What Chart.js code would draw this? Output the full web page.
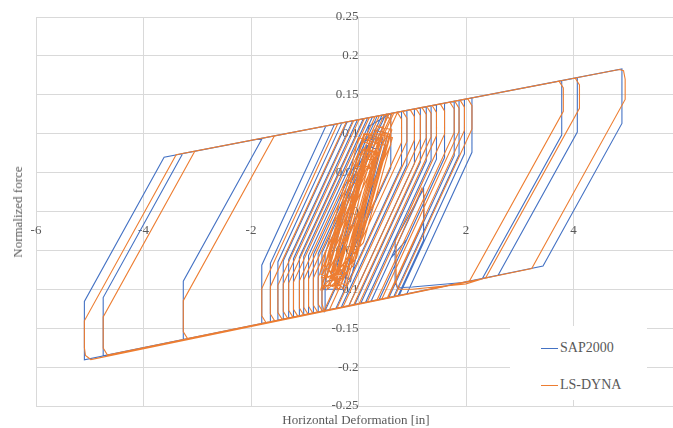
<!DOCTYPE html>
<html>
<head>
<meta charset="utf-8">
<script src="https://cdn.jsdelivr.net/npm/chart.js@4.4.0/dist/chart.umd.min.js"></script>
<style>
  body { margin: 0; background: #fff; }
  #wrap { position: relative; width: 673px; height: 428px; font-family: 'Liberation Serif', 'Times New Roman', 'DejaVu Serif', serif; color: #595959; }
  #chart { position: absolute; left: 0; top: 0; }
  .ytitle { position: absolute; left: 18px; top: 212px; transform: translate(-50%, -50%) rotate(-90deg); font-size: 13px; white-space: nowrap; }
  .xtitle { position: absolute; left: 356px; top: 420px; transform: translate(-50%, -50%); font-size: 13px; white-space: nowrap; }
  .legend { position: absolute; left: 510px; top: 326px; width: 137px; height: 74px; background: #fff; }
  .item { position: absolute; left: 31px; font-size: 14px; line-height: 16px; white-space: nowrap; }
  .swatch { display: inline-block; width: 17px; height: 0; border-top: 1.5px solid; vertical-align: middle; margin-right: 2px; }
</style>
</head>
<body>
<div id="wrap">
  <canvas id="chart" width="673" height="428"></canvas>
  <div class="ytitle">Normalized force</div>
  <div class="xtitle">Horizontal Deformation [in]</div>
  <div class="legend">
    <div class="item" style="top:14px"><span class="swatch" style="border-color:#4472C4"></span>SAP2000</div>
    <div class="item" style="top:51px"><span class="swatch" style="border-color:#ED7D31"></span>LS-DYNA</div>
  </div>
</div>
<script>
// SAP2000 path, one line per cycle (displacement in / normalized force)
const sapX = [
  0, -0.5, 0.15, 0.4, -0.25, -0.62, 0.05, 0.45, -0.15, -0.4, 0.3, 0.55, -0.3, -0.66, 0.2,
  0.6, 0.6, -0.622, -0.622, 0.564,
  0.8, 0.8, -0.421, -0.68, -0.68, 0.506,
  0.9, 0.9, -0.321, -0.75, -0.75, 0.437,
  1.04, 1.04, -0.18, -0.84, -0.84, 0.347,
  1.15, 1.15, -0.069, -0.93, -0.93, 0.258,
  1.26, 1.26, 0.042, -1.02, -1.02, 0.168,
  1.35, 1.35, 0.132, -1.1, -1.1, 0.089,
  1.45, 1.45, 0.233, -1.21, -1.21, -0.021,
  1.6, 1.6, 0.384, -1.3, -1.3, -0.11,
  1.78, 1.78, 0.565, -1.4, -1.4, -0.21,
  1.87, 1.87, 0.655, -1.5, -1.5, -0.309,
  1.97, 1.97, 0.756, -1.64, -1.64, -0.448,
  2.11, 2.11, 0.897, -1.8, -1.8, -0.607,
  3.78, 3.78, 2.304, -3.26, -3.26, -1.79,
  4.07, 4.07, 2.596, 2.0, 1.0, 0.72, 0.68, 0.68, 1.21, 1.21, 0.735, -4.75, -4.75, -3.27,
  4.9, 4.9, 3.432, -5.1, -5.1, -3.617,
  1.6, 1.6, 0.9, 0.6
];
const sapY = [
  0, -0.08, 0.085, 0.08, -0.085, -0.09, 0.09, 0.095, -0.09, -0.07, 0.105, 0.1, -0.1, -0.1, 0.11,
  0.126, 0.056, -0.1274, -0.0524, 0.1255,
  0.1286, 0.0586, -0.1245, -0.1282, -0.0532, 0.1247,
  0.13, 0.06, -0.1231, -0.1292, -0.0542, 0.1238,
  0.1318, 0.0618, -0.1211, -0.1304, -0.0554, 0.1226,
  0.1333, 0.0633, -0.1196, -0.1317, -0.0567, 0.1214,
  0.1348, 0.0648, -0.118, -0.133, -0.058, 0.1202,
  0.136, 0.066, -0.1167, -0.1341, -0.0591, 0.1192,
  0.1373, 0.0673, -0.1153, -0.1357, -0.0607, 0.1177,
  0.1393, 0.0693, -0.1132, -0.1369, -0.0619, 0.1165,
  0.1417, 0.0717, -0.1106, -0.1383, -0.0633, 0.1152,
  0.1429, 0.0729, -0.1094, -0.1398, -0.0648, 0.1139,
  0.1442, 0.0742, -0.1079, -0.1417, -0.0667, 0.112,
  0.1461, 0.0761, -0.106, -0.144, -0.069, 0.1099,
  0.1683, 0.0983, -0.0861, -0.1646, -0.0896, 0.0942,
  0.1721, 0.1021, -0.082, -0.091, -0.097, -0.098, -0.09, -0.037, 0.029, -0.037, -0.1082, -0.1856, -0.1106, 0.0745,
  0.1832, 0.1132, -0.0702, -0.1905, -0.1155, 0.0699,
  0.1393, 0.0693, -0.0357, -0.06
];

// LS-DYNA path
const dynaX = [
  0,
  -0.66, 0.06, 0.29, -0.41,
  -0.52, 0.2, 0.5, -0.22,
  -0.69, -0.11, 0.22, -0.34,
  -0.34, 0.34, 0.62, -0.04,
  -0.65, 0.07, 0.35, -0.35,
  -0.53, 0.27, 0.55, -0.23,
  -0.72, -0.24, 0.04, -0.42,
  -0.21, 0.35, 0.63, 0.09,
  -0.7, 0.1, 0.38, -0.4,
  -0.48, 0.08, 0.36, -0.18,
  -0.6, 0.0, 0.3, -0.3,
  -0.45, 0.22, 0.45, -0.28,
  -0.62, 0.12, 0.42, -0.12,
  -0.5, 0.15, 0.4, -0.33,
  -0.67, 0.0, 0.25, -0.45,
  -0.4, 0.3, 0.58, -0.1,
  -0.58, 0.05, 0.3, -0.2,
  -0.3, 0.25, 0.5, -0.05,
  0.52, 0.6, 0.6, -0.5, -0.55, -0.55, 0.625,
  0.72, 0.8, 0.8, -0.642, -0.68, -0.68, 0.726,
  0.82, 0.9, 0.9, -0.542, -0.67, -0.75, -0.75, 0.657,
  0.96, 1.04, 1.04, -0.401, -0.76, -0.84, -0.84, 0.567,
  1.07, 1.15, 1.15, -0.29, -0.85, -0.93, -0.93, 0.478,
  1.18, 1.26, 1.26, -0.179, -0.94, -1.02, -1.02, 0.388,
  1.27, 1.35, 1.35, -0.089, -1.02, -1.1, -1.1, 0.309,
  1.37, 1.45, 1.45, 0.012, -1.13, -1.21, -1.21, 0.199,
  1.52, 1.6, 1.6, 0.163, -1.22, -1.3, -1.3, 0.11,
  1.7, 1.78, 1.78, 0.344, -1.32, -1.4, -1.4, 0.01,
  1.79, 1.87, 1.87, 0.434, -1.42, -1.5, -1.5, -0.089,
  1.89, 1.97, 1.97, 0.535, -1.56, -1.64, -1.64, -0.228,
  2.03, 2.11, 2.11, 0.676, -1.72, -1.8, -1.8, -0.387,
  3.73, 3.81, 3.81, 2.064, -3.18, -3.26, -3.26, -1.566,
  4.03, 4.11, 4.11, 2.366, 2.0, 1.0, 0.74, 0.7, 0.7, 1.18, 1.22, 1.22, 0.547,
  -4.67, -4.75, -4.75, -3.046,
  4.85, 4.93, 4.96, 4.96, 3.222, -4.98, -5.08, -5.1, -5.1, -3.393,
  1.52, 1.6, 1.6, 0.9, 0.6
];
const dynaY = [
  0,
  -0.09, 0.09, 0.085, -0.09,
  -0.08, 0.1, 0.1, -0.08,
  -0.085, 0.06, 0.055, -0.085,
  -0.06, 0.11, 0.105, -0.06,
  -0.1, 0.08, 0.075, -0.1,
  -0.095, 0.105, 0.1, -0.095,
  -0.08, 0.04, 0.035, -0.08,
  -0.04, 0.1, 0.095, -0.04,
  -0.1, 0.1, 0.095, -0.1,
  -0.07, 0.07, 0.065, -0.07,
  -0.085, 0.075, 0.07, -0.085,
  -0.1, 0.095, 0.09, -0.1,
  -0.07, 0.1, 0.1, -0.05,
  -0.09, 0.08, 0.075, -0.095,
  -0.095, 0.095, 0.09, -0.095,
  -0.06, 0.1, 0.1, -0.07,
  -0.1, 0.06, 0.055, -0.05,
  -0.04, 0.09, 0.085, -0.05,
  0.1249, 0.116, 0.086, -0.079, -0.075, -0.05, 0.1263,
  0.1276, 0.1186, 0.0886, -0.1277, -0.118, -0.0832, 0.1277,
  0.1289, 0.12, 0.09, -0.1262, -0.128, -0.1192, -0.0842, 0.1267,
  0.1308, 0.1218, 0.0918, -0.1243, -0.1293, -0.1204, -0.0854, 0.1255,
  0.1322, 0.1233, 0.0933, -0.1227, -0.1306, -0.1217, -0.0867, 0.1244,
  0.1337, 0.1248, 0.0948, -0.1211, -0.1319, -0.123, -0.088, 0.1232,
  0.1349, 0.126, 0.096, -0.1199, -0.133, -0.1241, -0.0891, 0.1221,
  0.1362, 0.1273, 0.0973, -0.1184, -0.1345, -0.1257, -0.0907, 0.1206,
  0.1382, 0.1293, 0.0993, -0.1163, -0.1358, -0.1269, -0.0919, 0.1195,
  0.1406, 0.1317, 0.1017, -0.1137, -0.1372, -0.1283, -0.0933, 0.1181,
  0.1418, 0.1329, 0.1029, -0.1125, -0.1386, -0.1298, -0.0948, 0.1168,
  0.1431, 0.1342, 0.1042, -0.111, -0.1406, -0.1317, -0.0967, 0.115,
  0.145, 0.1361, 0.1061, -0.1091, -0.1429, -0.134, -0.099, 0.1129,
  0.1676, 0.1587, 0.1287, -0.0895, -0.1634, -0.1546, -0.1146, 0.0972,
  0.1716, 0.1627, 0.1327, -0.0852, -0.093, -0.1, -0.1, -0.092, -0.045, 0.03, 0.02, -0.01, -0.1109,
  -0.1845, -0.1756, -0.1356, 0.0775,
  0.1825, 0.181, 0.17, 0.144, -0.0732, -0.1903, -0.185, -0.175, -0.1405, 0.0729,
  0.1382, 0.1293, 0.0993, -0.006, -0.05
];

const xTicks = [-6, -4, -2, 0, 2, 4];
const yTicks = [-0.25, -0.2, -0.15, -0.1, -0.05, 0, 0.05, 0.1, 0.15, 0.2, 0.25];

function toPoints(xs, ys) {
  return xs.map((x, i) => ({ x: x, y: ys[i] }));
}

Chart.defaults.font.family = "'Liberation Serif', 'Times New Roman', serif";
Chart.defaults.font.size = 13;
Chart.defaults.color = '#595959';

new Chart(document.getElementById('chart'), {
  type: 'scatter',
  data: {
    datasets: [
      {
        label: 'SAP2000',
        data: toPoints(sapX, sapY),
        borderColor: '#4472C4',
        order: 1
      },
      {
        label: 'LS-DYNA',
        data: toPoints(dynaX, dynaY),
        borderColor: '#ED7D31',
        order: 0
      }
    ]
  },
  options: {
    responsive: false,
    animation: false,
    showLine: true,
    elements: {
      point: { radius: 0 },
      line: { borderWidth: 1.1, tension: 0 }
    },
    layout: { padding: { left: 36, top: 17, right: 0, bottom: 22 } },
    plugins: {
      legend: { display: false },
      tooltip: { enabled: false }
    },
    scales: {
      x: {
        type: 'linear',
        min: -6,
        max: 5.85,
        position: { y: 0 },
        afterBuildTicks: (scale) => {
          scale.ticks = xTicks.map((v) => ({ value: v }));
        },
        ticks: { padding: 3, maxRotation: 0 },
        grid: { color: '#d9d9d9', tickColor: 'transparent', tickLength: 8 },
        border: { display: false }
      },
      y: {
        type: 'linear',
        min: -0.25,
        max: 0.25,
        position: { x: 0 },
        afterBuildTicks: (scale) => {
          scale.ticks = yTicks.map((v) => ({ value: v }));
        },
        ticks: {
          padding: 3,
          callback: (v) => String(+Number(v).toFixed(2))
        },
        grid: { color: '#d9d9d9', tickColor: 'transparent', tickLength: 8 },
        border: { display: false }
      }
    }
  }
});
</script>
</body>
</html>
